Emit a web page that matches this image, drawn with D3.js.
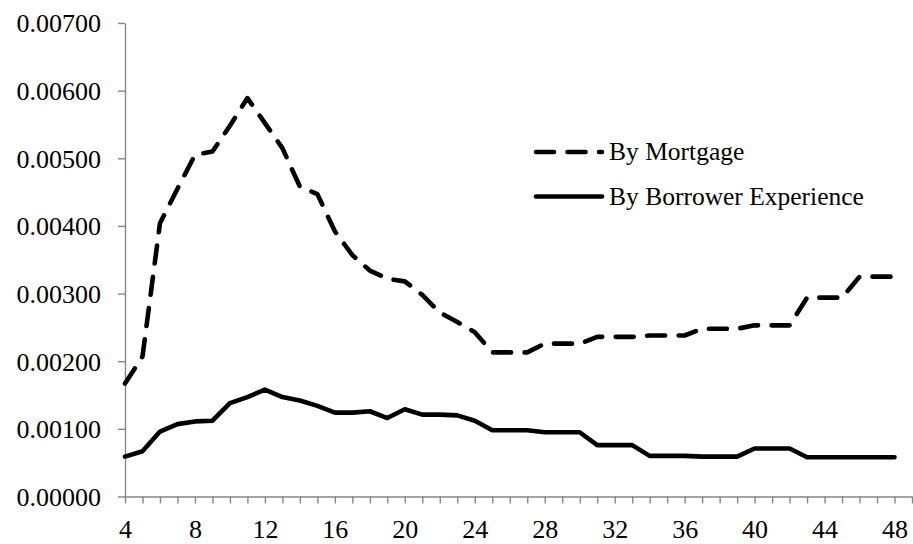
<!DOCTYPE html>
<html>
<head>
<meta charset="utf-8">
<script src="https://cdn.jsdelivr.net/npm/d3@7"></script>
<style>
  html, body { margin: 0; padding: 0; background: #fff; }
  svg { display: block; }
</style>
</head>
<body>
<svg id="chart" width="913" height="544"></svg>
<script>
// ---- data ----
const months = d3.range(4, 49);
const mortgage = [
  0.00167, 0.00207, 0.00404, 0.00455, 0.00505, 0.00510, 0.00548, 0.00589, 0.00552, 0.00515,
  0.00458, 0.00447, 0.00392, 0.00357, 0.00334, 0.00322, 0.00318, 0.00298, 0.00272, 0.00258,
  0.00243, 0.00213, 0.00213, 0.00213, 0.00226, 0.00226, 0.00226, 0.00236, 0.00236, 0.00236,
  0.00238, 0.00238, 0.00238, 0.00248, 0.00248, 0.00248, 0.00253, 0.00253, 0.00253, 0.00294,
  0.00294, 0.00294, 0.00325, 0.00325, 0.00325
];
const borrower = [
  0.00059, 0.00067, 0.00096, 0.00107, 0.00111, 0.00112, 0.00138, 0.00147, 0.00158, 0.00147,
  0.00142, 0.00134, 0.00124, 0.00124, 0.00126, 0.00116, 0.00129, 0.00121, 0.00121, 0.00120,
  0.00112, 0.00098, 0.00098, 0.00098, 0.00095, 0.00095, 0.00095, 0.00076, 0.00076, 0.00076,
  0.00060, 0.00060, 0.00060, 0.00059, 0.00059, 0.00059, 0.00071, 0.00071, 0.00071, 0.00058,
  0.00058, 0.00058, 0.00058, 0.00058, 0.00058
];
const seriesNames = ["By Mortgage", "By Borrower Experience"];
const xTickValues = d3.range(4, 50);
const xLabels = [4, 8, 12, 16, 20, 24, 28, 32, 36, 40, 44, 48];
const yTickValues = [0, 0.001, 0.002, 0.003, 0.004, 0.005, 0.006, 0.007];

// ---- layout ----
const svg = d3.select("#chart");
const font = "'Liberation Serif', 'Times New Roman', serif";
const axisColor = "#868686";

const x = d3.scaleLinear().domain([4, 49]).range([125, 912]);
const y = d3.scaleLinear().domain([0, 0.007]).range([496.5, 23]);

// Y axis
const yAxis = d3.axisLeft(y)
  .tickValues(yTickValues)
  .tickSize(7)
  .tickSizeOuter(0)
  .tickPadding(17)
  .tickFormat(d3.format(".5f"));
const gy = svg.append("g").attr("transform", "translate(125,0)").call(yAxis);
gy.select(".domain").attr("stroke", axisColor).attr("stroke-width", 1.4);
gy.selectAll(".tick line").attr("stroke", axisColor).attr("stroke-width", 1.4);
gy.selectAll(".tick text")
  .attr("fill", "#000")
  .style("font-family", font)
  .style("font-size", "26px")
  .attr("dy", "0.34em");

// X axis
const xAxis = d3.axisBottom(x)
  .tickValues(xTickValues)
  .tickSize(7)
  .tickSizeOuter(0)
  .tickFormat(d => xLabels.includes(d) ? String(d) : "");
const gx = svg.append("g").attr("transform", "translate(0,496.5)").call(xAxis);
gx.select(".domain").attr("stroke", axisColor).attr("stroke-width", 1.4);
gx.selectAll(".tick line").attr("stroke", axisColor).attr("stroke-width", 1.4);
gx.selectAll(".tick text")
  .attr("fill", "#000")
  .style("font-family", font)
  .style("font-size", "26px")
  .attr("y", 41)
  .attr("dy", "0");

// Lines
const line = d3.line().x((d, i) => x(months[i])).y(d => y(d));

svg.append("path")
  .datum(borrower)
  .attr("d", line)
  .attr("fill", "none")
  .attr("stroke", "#000")
  .attr("stroke-width", 4.6)
  .attr("stroke-linejoin", "round")
  .attr("stroke-linecap", "round");

svg.append("path")
  .datum(mortgage)
  .attr("d", line)
  .attr("fill", "none")
  .attr("stroke", "#000")
  .attr("stroke-width", 4.6)
  .attr("stroke-dasharray", "18,13.5")
  .attr("stroke-linejoin", "round")
  .attr("stroke-linecap", "round");

// Legend
const legend = svg.append("g");
const legendItems = [
  { name: seriesNames[0], y: 152, dash: "18,13.5" },
  { name: seriesNames[1], y: 196.5, dash: null }
];
legendItems.forEach(it => {
  legend.append("line")
    .attr("x1", 536).attr("x2", 602)
    .attr("y1", it.y).attr("y2", it.y)
    .attr("stroke", "#000")
    .attr("stroke-width", 4.6)
    .attr("stroke-linecap", "round")
    .attr("stroke-dasharray", it.dash);
  legend.append("text")
    .attr("x", 609)
    .attr("y", it.y)
    .attr("dy", "0.33em")
    .style("font-family", font)
    .style("font-size", "25.5px")
    .attr("fill", "#000")
    .text(it.name);
});
</script>
</body>
</html>
